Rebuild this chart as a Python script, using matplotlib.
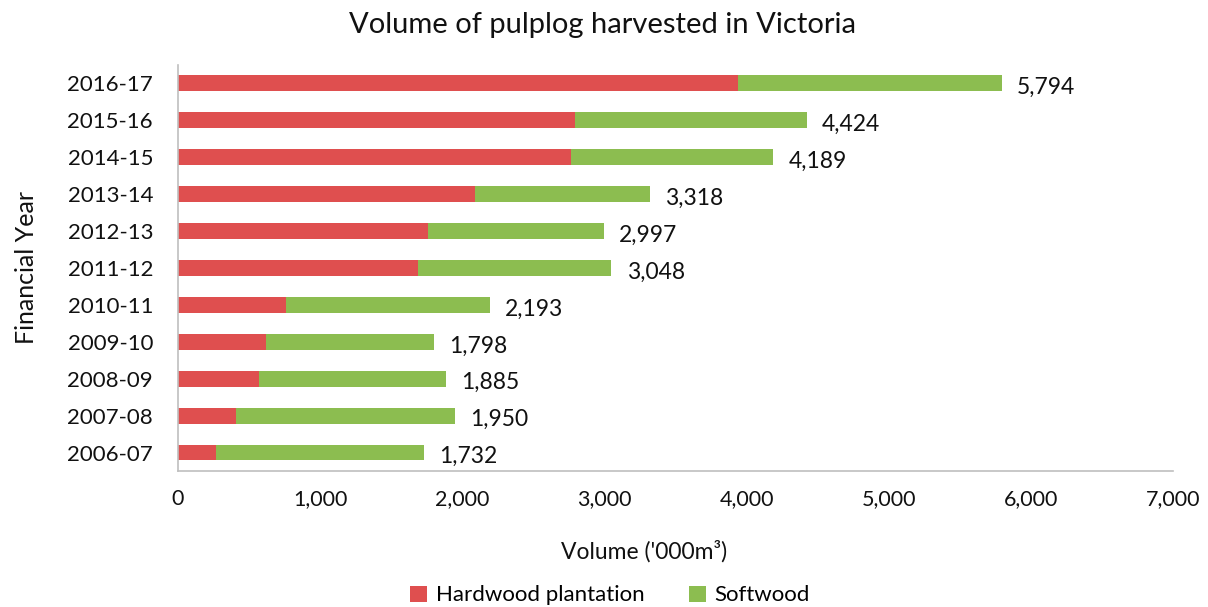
import matplotlib
matplotlib.use("Agg")
import matplotlib.pyplot as plt
import numpy as np

years = ["2006-07", "2007-08", "2008-09", "2009-10", "2010-11", "2011-12",
         "2012-13", "2013-14", "2014-15", "2015-16", "2016-17"]
hardwood = [270, 408, 568, 621, 758, 1686, 1757, 2092, 2767, 2793, 3938]
totals = [1732, 1950, 1885, 1798, 2193, 3048, 2997, 3318, 4189, 4424, 5794]
softwood = [t - h for t, h in zip(totals, hardwood)]

RED = "#DF4F4F"
GREEN = "#8CBD50"
GREY = "#BFBFBF"
INK = "#111111"

plt.rcParams["font.family"] = ["Lato", "DejaVu Sans"]

fig = plt.figure(figsize=(12.08, 6.07), dpi=100)
ax = fig.add_axes([0.1474, 0.224, 0.8236, 0.6697])

y = np.arange(len(years))
h = 0.43
ax.barh(y, hardwood, height=h, color=RED, label="Hardwood plantation")
ax.barh(y, softwood, left=hardwood, height=h, color=GREEN, label="Softwood")

for yi, tot in zip(y, totals):
    ax.annotate(f"{tot:,}", xy=(tot, yi), xytext=(11, -3), textcoords="offset points",
                ha="left", va="center", fontsize=16.5, color=INK)

ax.set_xlim(0, 7000)
ax.set_ylim(-0.5, 10.5)
ax.set_yticks(y)
ax.set_yticklabels(years)
ax.set_xticks(np.arange(0, 7001, 1000))
ax.set_xticklabels([f"{v:,}" for v in range(0, 7001, 1000)])
ax.tick_params(axis="y", length=0, pad=18, labelsize=16, labelcolor=INK)
ax.tick_params(axis="x", length=0, pad=13, labelsize=15.5, labelcolor=INK)

for s in ("top", "right"):
    ax.spines[s].set_visible(False)
for s in ("left", "bottom"):
    ax.spines[s].set_color(GREY)
    ax.spines[s].set_linewidth(1.2)

ax.set_xlabel("Volume ('000m³)", fontsize=16.5, color=INK, va="center")
ax.xaxis.set_label_coords(0.468, -0.197)
ax.set_ylabel("Financial Year", fontsize=18, color=INK, va="center")
ax.yaxis.set_label_coords(-0.152, 0.5)

fig.text(0.499, 0.958, "Volume of pulplog harvested in Victoria", ha="center", va="center",
         fontsize=21, color=INK)

fig.legend(loc="center", bbox_to_anchor=(0.505, 0.019), ncol=2, frameon=False,
           fontsize=16, handlelength=0.75, handleheight=0.75, handletextpad=0.4,
           columnspacing=2.0)

fig.savefig("out.png", dpi=100)
